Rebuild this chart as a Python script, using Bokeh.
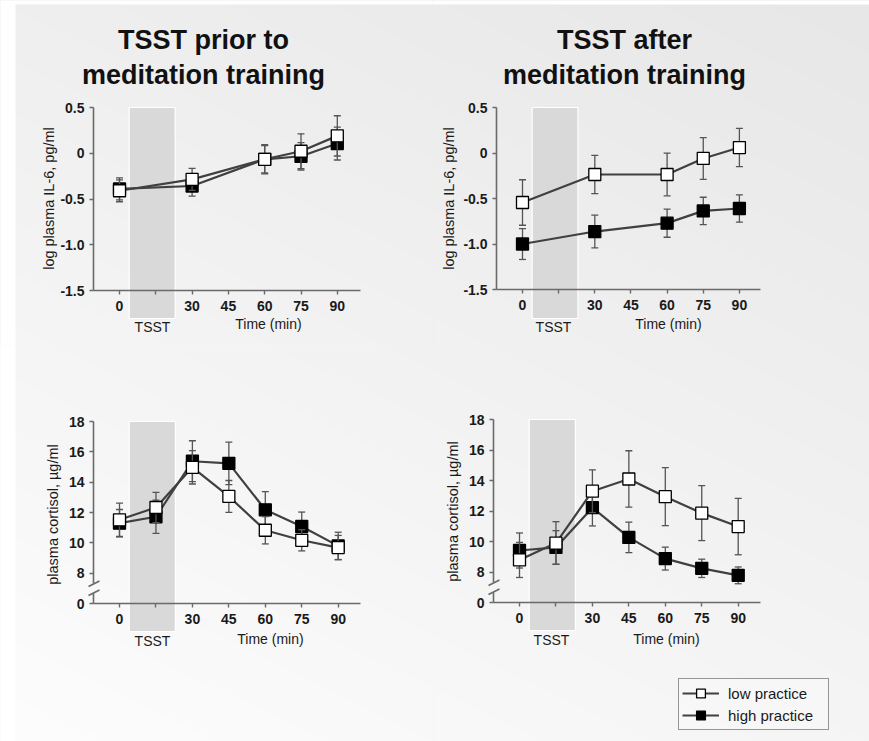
import numpy as np
from bokeh.plotting import figure
from bokeh.layouts import column, row
from bokeh.models import (LinearAxis, FixedTicker, Label, Legend, LegendItem, Range1d)
from bokeh.embed import file_html
from bokeh.resources import INLINE

FONT = "Liberation Sans"

# ---------------- data ----------------
il6_time = [0, 30, 60, 75, 90]
cort_time = [0, 15, 30, 45, 60, 75, 90]
x_ticks = [0, 15, 30, 45, 60, 75, 90]
x_tick_labels = {15: ""}
tsst_start, tsst_end = 4, 23

il6_ticks = [-1.5, -1.0, -0.5, 0.0, 0.5]
il6_tick_labels = {-1.5: "-1.5", -1.0: "-1.0", -0.5: "-0.5", 0.0: "0", 0.5: "0.5"}
cort_ticks = [6, 8, 10, 12, 14, 16, 18]          # 6 is the broken-axis "0"
cort_tick_labels = {6: "0", 8: "8", 10: "10", 12: "12", 14: "14", 16: "16", 18: "18"}

il6_pre_low = [-0.41, -0.285, -0.066, 0.022, 0.19]
il6_pre_low_err = [0.12, 0.12, 0.16, 0.19, 0.22]
il6_pre_high = [-0.39, -0.358, -0.066, -0.033, 0.106]
il6_pre_high_err = [0.12, 0.11, 0.15, 0.15, 0.18]

il6_post_low = [-0.544, -0.236, -0.236, -0.06, 0.06]
il6_post_low_err = [0.25, 0.21, 0.235, 0.23, 0.21]
il6_post_high = [-1.0, -0.863, -0.771, -0.636, -0.61]
il6_post_high_err = [0.17, 0.18, 0.155, 0.15, 0.15]

cort_pre_low = [11.52, 12.33, 14.98, 13.06, 10.83, 10.17, 9.69]
cort_pre_low_err = [1.1, 1.0, 1.1, 1.05, 0.9, 0.7, 0.8]
cort_pre_high = [11.3, 11.72, 15.38, 15.24, 12.18, 11.08, 9.8]
cort_pre_high_err = [0.9, 1.1, 1.35, 1.4, 1.2, 0.95, 0.9]

cort_post_low = [8.79, 9.9, 13.3, 14.1, 12.94, 11.86, 10.98]
cort_post_low_err = [1.15, 1.4, 1.4, 1.85, 1.9, 1.8, 1.85]
cort_post_high = [9.41, 9.61, 12.22, 10.27, 8.88, 8.24, 7.78]
cort_post_high_err = [1.15, 1.1, 1.2, 1.0, 0.75, 0.6, 0.55]

titles = [["TSST prior to", "meditation training"], ["TSST after", "meditation training"]]
il6_label = "log plasma IL-6, pg/ml"
cort_label = "plasma cortisol, µg/ml"
series_labels = ["low practice", "high practice"]

LINE_C = "#404040"
ERR_C = "#555555"
AXIS_C = "#6a6a6a"
TICK_TXT = "#1a1a1a"


def bg_level(X, Y):
    L = 239 - 0.0092 * X + 0.0189 * Y
    L = np.where((X < 15) | (Y < 4), 255, L)
    return np.clip(L, 0, 255)


class Panel:
    def __init__(self, left, top, w, h, x0px, xppu, yref, yrefpx, yppu):
        self.left, self.top, self.w, self.h = left, top, w, h
        self.x0px, self.xppu, self.yref, self.yrefpx, self.yppu = x0px, xppu, yref, yrefpx, yppu
        xs, xe = self.px2x(left), self.px2x(left + w)
        ys, ye = self.py2y(top + h), self.py2y(top)
        self.xs, self.xe, self.ys, self.ye = xs, xe, ys, ye
        mid = int(bg_level(np.array(left + w / 2), np.array(top + h / 2)))
        col = "#%02x%02x%02x" % (mid, mid, mid)
        p = figure(width=w, height=h, x_range=Range1d(xs, xe), y_range=Range1d(ys, ye),
                   output_backend="svg", toolbar_location=None,
                   x_axis_location=None, y_axis_location=None,
                   min_border=0, outline_line_color=None,
                   styles={"background-color": col})
        p.grid.visible = False
        p.background_fill_color = col
        p.border_fill_color = col
        self.p = p
        self._background()

    def px2x(self, px):
        return (px - self.x0px) / self.xppu

    def py2y(self, py):
        return self.yref - (py - self.yrefpx) / self.yppu

    def _background(self):
        pad = 3
        w, h = self.w + 2 * pad, self.h + 2 * pad
        ys_page = self.top + self.h + pad - 0.5 - np.arange(h)
        xs_page = self.left - pad + 0.5 + np.arange(w)
        X, Y = np.meshgrid(xs_page, ys_page)
        L = bg_level(X, Y).astype(np.uint32)
        img = (np.uint32(255) << 24) | (L << 16) | (L << 8) | L
        x0 = self.px2x(self.left - pad)
        x1 = self.px2x(self.left + self.w + pad)
        y0 = self.py2y(self.top + self.h + pad)
        y1 = self.py2y(self.top - pad)
        self.p.image_rgba(image=[img], x=x0, y=y0, dw=x1 - x0, dh=y1 - y0, level="image")


def style_axis(ax):
    ax.axis_line_color = AXIS_C
    ax.axis_line_width = 1.6
    ax.major_tick_line_color = AXIS_C
    ax.major_tick_line_width = 1.4
    ax.major_tick_out = 4
    ax.major_tick_in = 0
    ax.minor_tick_line_color = None
    ax.major_label_text_font = FONT
    ax.major_label_text_font_style = "bold"
    ax.major_label_text_font_size = "14px"
    ax.major_label_text_color = TICK_TXT


def build(pn, kind, title, low, low_err, high, high_err, times, yaxis_px, xend_px,
          ylabel_px, shade_bottom_px, tsst_px, time_px, title_px=None, legend=False):
    p = pn.p
    yaxis_x = pn.px2x(yaxis_px)
    if kind == "il6":
        ybot, ytop, ticks, labels, ylab = -1.5, 0.5, il6_ticks, il6_tick_labels, il6_label
    else:
        ybot, ytop, ticks, labels, ylab = 6, 18, cort_ticks, cort_tick_labels, cort_label

    # TSST shaded period
    p.quad(left=tsst_start, right=tsst_end, top=ytop, bottom=pn.py2y(shade_bottom_px),
           fill_color="#d9d9d9", line_color="white", line_width=1.2, level="image")

    # axes
    xa = LinearAxis(fixed_location=ybot, bounds=(yaxis_x, pn.px2x(xend_px)),
                    ticker=FixedTicker(ticks=x_ticks), major_label_overrides=x_tick_labels)
    style_axis(xa)
    xa.major_label_standoff = 6
    p.add_layout(xa, "below")
    ya = LinearAxis(fixed_location=yaxis_x, bounds=(ybot, ytop),
                    ticker=FixedTicker(ticks=ticks), major_label_overrides=labels)
    style_axis(ya)
    ya.major_label_standoff = 5
    p.add_layout(ya, "left")

    if kind == "cort":
        ya.axis_line_color = None
        base = pn.yrefpx + 12 * pn.yppu
        gap_lo, gap_hi = pn.py2y(base - 10), pn.py2y(base - 20)
        p.segment(x0=[yaxis_x, yaxis_x], y0=[ybot, gap_hi], x1=[yaxis_x, yaxis_x], y1=[gap_lo, ytop],
                  line_color=AXIS_C, line_width=1.6)
        sx0, sx1 = pn.px2x(yaxis_px - 5), pn.px2x(yaxis_px + 6)
        p.segment(x0=[sx0, sx0], y0=[pn.py2y(base - 8), pn.py2y(base - 17)],
                  x1=[sx1, sx1], y1=[pn.py2y(base - 13.5), pn.py2y(base - 22.5)],
                  line_color=AXIS_C, line_width=1.6)

    # y-axis title
    p.add_layout(Label(x=pn.px2x(ylabel_px[0]), y=pn.py2y(ylabel_px[1]), text=ylab, angle=np.pi / 2,
                       text_align="center", text_baseline="middle", text_font=FONT,
                       text_font_size="14.5px", text_color="#1a1a1a"))
    # TSST / Time labels
    p.add_layout(Label(x=pn.px2x(tsst_px[0]), y=pn.py2y(tsst_px[1]), text="TSST", text_align="center",
                       text_baseline="middle", text_font=FONT, text_font_size="14px", text_color="#1a1a1a"))
    p.add_layout(Label(x=pn.px2x(time_px[0]), y=pn.py2y(time_px[1]), text="Time (min)", text_align="center",
                       text_baseline="middle", text_font=FONT, text_font_size="14px", text_color="#1a1a1a"))
    # titles
    if title_px is not None:
        for txt, bl in zip(title, title_px[1]):
            p.add_layout(Label(x=pn.px2x(title_px[0]), y=pn.py2y(bl), text=txt, text_align="center",
                               text_baseline="alphabetic", text_font=FONT, text_font_style="bold",
                               text_font_size="27px", text_color="#111111"))

    rends = {}
    for name, vals, errs, fill in [("high", high, high_err, "black"), ("low", low, low_err, "white")]:
        up = [v + e for v, e in zip(vals, errs)]
        lo = [v - e for v, e in zip(vals, errs)]
        p.segment(x0=times, y0=lo, x1=times, y1=up, line_color=ERR_C, line_width=1.3)
        p.scatter(x=times, y=up, marker="dash", size=7, line_color=ERR_C, line_width=1.3)
        p.scatter(x=times, y=lo, marker="dash", size=7, line_color=ERR_C, line_width=1.3)
        ln = p.line(x=times, y=vals, line_color=LINE_C, line_width=2.2)
        sq = p.scatter(x=times, y=vals, marker="square", size=12, fill_color=fill,
                       line_color="black", line_width=1.3)
        rends[name] = (ln, sq)

    if legend:
        lg = Legend(items=[LegendItem(label=series_labels[0], renderers=list(rends["low"])),
                           LegendItem(label=series_labels[1], renderers=list(rends["high"]))],
                    location=(245, 11), orientation="vertical",
                    label_text_font=FONT, label_text_font_size="15px", label_text_color="#1a1a1a",
                    glyph_width=37, glyph_height=22, label_height=22, label_standoff=9,
                    label_width=97, padding=3, spacing=0, margin=0,
                    border_line_color="#333333", border_line_width=1.2,
                    background_fill_color="white", background_fill_alpha=0.25)
        p.add_layout(lg, "center")


LW, RW, TH, BH = 433, 436, 345, 396
tl = Panel(0, 0, LW, TH, 119, 2.42, 0.5, 107, 91.5)
tr = Panel(LW, 0, RW, TH, 522, 2.41, 0.5, 107, 91.0)
bl = Panel(0, TH, LW, BH, 119, 2.43, 18, 421, 15.17)
br = Panel(LW, TH, RW, BH, 519, 2.43, 18, 419, 15.25)

build(tl, "il6", titles[0], il6_pre_low, il6_pre_low_err, il6_pre_high, il6_pre_high_err, il6_time,
      yaxis_px=93, xend_px=360, ylabel_px=(48, 198), shade_bottom_px=318,
      tsst_px=(152, 326), time_px=(268, 323), title_px=(203, (39.5, 74.5)))
build(tr, "il6", titles[1], il6_post_low, il6_post_low_err, il6_post_high, il6_post_high_err, il6_time,
      yaxis_px=496, xend_px=760, ylabel_px=(448, 198), shade_bottom_px=318,
      tsst_px=(553, 326), time_px=(668, 323), title_px=(624, (39.5, 74.5)))
build(bl, "cort", None, cort_pre_low, cort_pre_low_err, cort_pre_high, cort_pre_high_err, cort_time,
      yaxis_px=93, xend_px=360, ylabel_px=(52, 514), shade_bottom_px=631,
      tsst_px=(152, 640), time_px=(270, 638))
build(br, "cort", None, cort_post_low, cort_post_low_err, cort_post_high, cort_post_high_err, cort_time,
      yaxis_px=493, xend_px=760, ylabel_px=(452, 511), shade_bottom_px=630,
      tsst_px=(551, 639), time_px=(666, 638), legend=True)

BG = {"background-color": "#eeeeee"}
layout = column(row(tl.p, tr.p, styles=BG), row(bl.p, br.p, styles=BG), styles=BG)
open("out.html", "w").write(file_html(layout, INLINE))
